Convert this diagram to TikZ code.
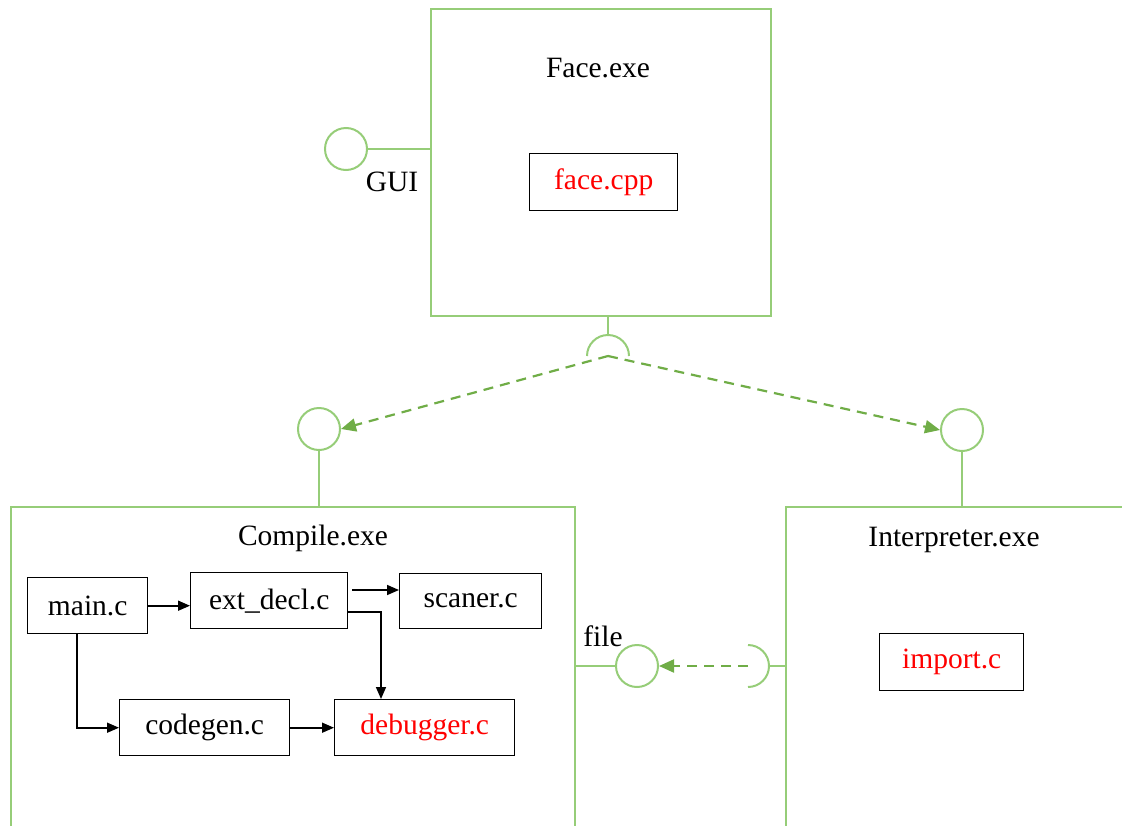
\documentclass[tikz,border=0pt]{standalone}
\usepackage{fontspec}
\setmainfont{Liberation Serif}
\usetikzlibrary{arrows.meta,calc}
\definecolor{gline}{RGB}{150,205,120}
\definecolor{garrow}{RGB}{112,173,71}
\definecolor{fred}{RGB}{255,0,0}
\begin{document}
\begin{tikzpicture}[x=1pt,y=-1pt,
  txt/.style={font=\fontsize{29.5}{34}\selectfont},
  comp/.style={draw=gline,line width=2pt,anchor=north west,inner sep=0pt},
  file/.style={draw=black,line width=1.4pt,anchor=north west,inner sep=0pt,font=\fontsize{29.5}{34}\selectfont},
  iface/.style={circle,draw=gline,line width=2pt,minimum size=42pt,inner sep=0pt},
  gl/.style={draw=gline,line width=2pt},
  dep/.style={draw=garrow,line width=2.2pt,dash pattern=on 10pt off 7pt,-{Triangle[length=15pt,width=13pt]}},
  blk/.style={draw=black,line width=1.6pt,-{Triangle[length=12pt,width=10pt]}}
]
\useasboundingbox (0,0) rectangle (1122,825);
\clip (0,0) rectangle (1122,825);
% components
\node[comp,minimum width=340pt,minimum height=307pt] (face) at (430,8) {};
\node[comp,minimum width=564pt,minimum height=340pt] (compile) at (10,506) {};
\node[comp,minimum width=360pt,minimum height=340pt] (interp) at (785,506) {};
\node[txt] (facet) at (598,68) {Face.exe};
\node[txt] (compt) at (313,538) {Compile.exe};
\node[txt] (interpt) at (954,540) {Interpreter.exe};
% files
\node[file,minimum width=148pt,minimum height=57pt,text=fred] (facecpp) at (529,153) {face.cpp};
\node[file,minimum width=144pt,minimum height=57pt,text=fred] (import) at (879,633) {import.c};
\node[file,minimum width=120pt,minimum height=56pt] (main) at (27,577) {main.c};
\node[file,minimum width=157pt,minimum height=56pt] (ext) at (190,572) {ext\_decl.c};
\node[file,minimum width=142pt,minimum height=55pt] (scan) at (399,573) {scaner.c};
\node[file,minimum width=170pt,minimum height=56pt] (codegen) at (119,699) {codegen.c};
\node[file,minimum width=180pt,minimum height=56pt,text=fred] (debug) at (334,699) {debugger.c};
% interfaces
\node[iface] (gui) at (346,149) {};
\node[txt] (guit) at (392,182) {GUI};
\node[iface] (lc) at (319,429) {};
\node[iface] (rc) at (962,430) {};
\node[iface] (filec) at (637,666) {};
\node[txt] (filet) at (603,636) {file};
\coordinate (sockF) at (608,356);
\coordinate (sockI) at (748,666);
% provided interface lines
\draw[gl] (gui.east) -- (gui.east -| face.west);
\draw[gl] (lc.south) -- (lc.south |- compile.north);
\draw[gl] (rc.south) -- (rc.south |- interp.north);
\draw[gl] (filec.west) -- (filec.west -| compile.east);
% required sockets
\draw[gl] (sockF |- face.south) -- ($(sockF)+(0,-21)$);
\draw[gl] ($(sockF)+(-21,0)$) arc[start angle=180,end angle=0,radius=21pt];
\draw[gl] ($(sockI)+(21,0)$) -- (sockI -| interp.west);
\draw[gl] ($(sockI)+(0,21)$) arc[start angle=-90,end angle=90,radius=21pt];
% dependencies
\draw[dep] (sockF) -- (lc.east);
\draw[dep] (sockF) -- (rc.west);
\draw[dep] (sockI) -- (filec.east);
% internal calls
\draw[blk] (main.east) -- (ext.west |- main.east);
\draw[blk] (352,590) -- (scan.west |- 0,590);
\draw[blk] (ext.east |- 0,612) -| (debug.north -| 381,0);
\draw[blk] (main.south -| 77,0) |- (codegen.west);
\draw[blk] (codegen.east) -- (debug.west);
\end{tikzpicture}
\end{document}
